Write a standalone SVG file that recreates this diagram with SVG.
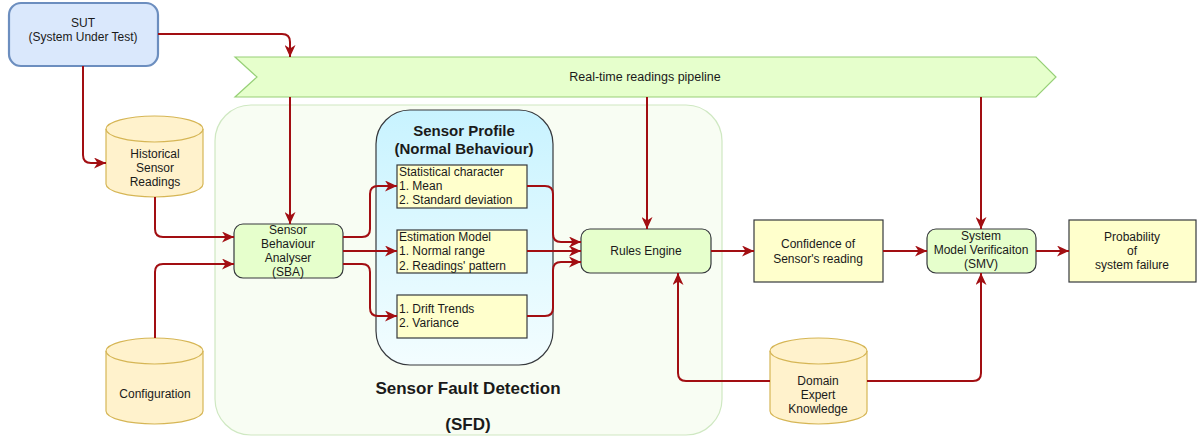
<svg xmlns="http://www.w3.org/2000/svg" width="1197" height="438" viewBox="0 0 1197 438">
<style>
text{font-family:"Liberation Sans",Arial,sans-serif;font-size:12px;fill:#1a1a1a}
.c{text-anchor:middle}
.cyl{fill:#fff2cc;stroke:#d6b656;stroke-width:1.2}
.green{fill:#e6ffcc;stroke:#36393d;stroke-width:1.2}
.yel{fill:#ffffcc;stroke:#36393d;stroke-width:1.2}
.conn path{fill:none;stroke:#a20e12;stroke-width:2;marker-end:url(#arr)}
</style>
<defs>
<marker id="arr" markerUnits="userSpaceOnUse" markerWidth="13" markerHeight="11" refX="12" refY="5.5" orient="auto">
<path d="M0,0 L12,5.5 L0,11 L3.5,5.5 Z" fill="#a20e12"/>
</marker>
<linearGradient id="prof" x1="0" y1="0" x2="0" y2="1">
<stop offset="0" stop-color="#c8f3ff"/>
<stop offset="1" stop-color="#f3fdff"/>
</linearGradient>
</defs>

<g id="sfd">
<rect x="215" y="105" width="507" height="330" rx="36" fill="#f8fdf3" stroke="#cfe8c2" stroke-width="1.2"/>
<text class="c" x="468" y="394" style="font-size:17px;font-weight:bold">Sensor Fault Detection</text>
<text class="c" x="468" y="430" style="font-size:17px;font-weight:bold">(SFD)</text>
</g>

<g id="sut">
<rect x="9" y="3" width="149" height="63" rx="12" fill="#dae8fc" stroke="#6c8ebf" stroke-width="2.2"/>
<text class="c" x="83" y="27">SUT</text>
<text class="c" x="83" y="41">(System Under Test)</text>
</g>

<g id="pipeline">
<path d="M235,57 L1036,57 L1056,77 L1036,97 L235,97 L257,77 Z" fill="#e6ffcc" stroke="#97d077" stroke-width="1.2"/>
<text class="c" x="645" y="81" style="font-size:12.5px">Real-time readings pipeline</text>
</g>

<g id="historical">
<path class="cyl" d="M106,129 A48.5,13 0 0 1 203,129 V184 A48.5,13 0 0 1 106,184 Z"/>
<path d="M106,129 A48.5,13 0 0 0 203,129" fill="none" stroke="#d6b656" stroke-width="1.2"/>
<text class="c" x="155" y="158">Historical</text>
<text class="c" x="155" y="172">Sensor</text>
<text class="c" x="155" y="186">Readings</text>
</g>

<g id="configuration">
<path class="cyl" d="M106,351 A48.5,13 0 0 1 203,351 V411 A48.5,13 0 0 1 106,411 Z"/>
<path d="M106,351 A48.5,13 0 0 0 203,351" fill="none" stroke="#d6b656" stroke-width="1.2"/>
<text class="c" x="155" y="398">Configuration</text>
</g>

<g id="sba">
<rect class="green" x="234" y="224" width="109" height="54" rx="9"/>
<text class="c" x="288" y="234">Sensor</text>
<text class="c" x="288" y="248">Behaviour</text>
<text class="c" x="288" y="262">Analyser</text>
<text class="c" x="288" y="276">(SBA)</text>
</g>

<g id="profile">
<rect x="376" y="110" width="177" height="255" rx="34" fill="url(#prof)" stroke="#36393d" stroke-width="1.2"/>
<text class="c" x="464" y="136" style="font-size:15px;font-weight:bold">Sensor Profile</text>
<text class="c" x="464" y="154" style="font-size:15px;font-weight:bold">(Normal Behaviour)</text>
</g>

<g id="stat">
<rect class="yel" x="397" y="165" width="130" height="43"/>
<text x="399" y="176">Statistical character</text>
<text x="399" y="190">1. Mean</text>
<text x="399" y="204">2. Standard deviation</text>
</g>

<g id="estimation">
<rect class="yel" x="397" y="230" width="130" height="43"/>
<text x="399" y="241">Estimation Model</text>
<text x="399" y="255">1. Normal range</text>
<text x="399" y="270">2. Readings' pattern</text>
</g>

<g id="drift">
<rect class="yel" x="397" y="295" width="130" height="43"/>
<text x="399" y="313">1. Drift Trends</text>
<text x="399" y="327">2. Variance</text>
</g>

<g id="rules">
<rect class="green" x="581" y="229" width="130" height="44" rx="9"/>
<text class="c" x="646" y="255">Rules Engine</text>
</g>

<g id="confidence">
<rect class="yel" x="754" y="220" width="129" height="62"/>
<text class="c" x="818" y="248">Confidence of</text>
<text class="c" x="818" y="263">Sensor's reading</text>
</g>

<g id="smv">
<rect class="green" x="927" y="229" width="109" height="44" rx="9"/>
<text class="c" x="981" y="240">System</text>
<text class="c" x="981" y="254">Model Verificaiton</text>
<text class="c" x="981" y="268">(SMV)</text>
</g>

<g id="probability">
<rect class="yel" x="1069" y="220" width="127" height="62"/>
<text class="c" x="1132" y="241">Probability</text>
<text class="c" x="1132" y="255">of</text>
<text class="c" x="1132" y="269">system failure</text>
</g>

<g id="domain">
<path class="cyl" d="M770,351 A48.5,13 0 0 1 867,351 V411 A48.5,13 0 0 1 770,411 Z"/>
<path d="M770,351 A48.5,13 0 0 0 867,351" fill="none" stroke="#d6b656" stroke-width="1.2"/>
<text class="c" x="818" y="385">Domain</text>
<text class="c" x="818" y="399">Expert</text>
<text class="c" x="818" y="413">Knowledge</text>
</g>

<g id="connectors" class="conn">
<path d="M158,34 H282 Q290,34 290,42 V57"/>
<path d="M83,66 V155 Q83,163 91,163 H106"/>
<path d="M155,197 V229 Q155,237 163,237 H234"/>
<path d="M155,338 V272 Q155,264 163,264 H234"/>
<path d="M290,97 V224"/>
<path d="M343,237 H362 Q370,237 370,229 V194 Q370,186 378,186 H397"/>
<path d="M343,251 H397"/>
<path d="M343,264 H362 Q370,264 370,272 V308 Q370,316 378,316 H397"/>
<path d="M527,186 H545 Q553,186 553,194 V234 Q553,242 561,242 H581"/>
<path d="M527,251 H581"/>
<path d="M527,316 H545 Q553,316 553,308 V270 Q553,262 561,262 H581"/>
<path d="M647,97 V229"/>
<path d="M711,251 H754"/>
<path d="M883,251 H927"/>
<path d="M981,97 V229"/>
<path d="M1036,251 H1069"/>
<path d="M770,381 H686 Q678,381 678,373 V273"/>
<path d="M867,381 H973 Q981,381 981,373 V273"/>
</g>
</svg>
